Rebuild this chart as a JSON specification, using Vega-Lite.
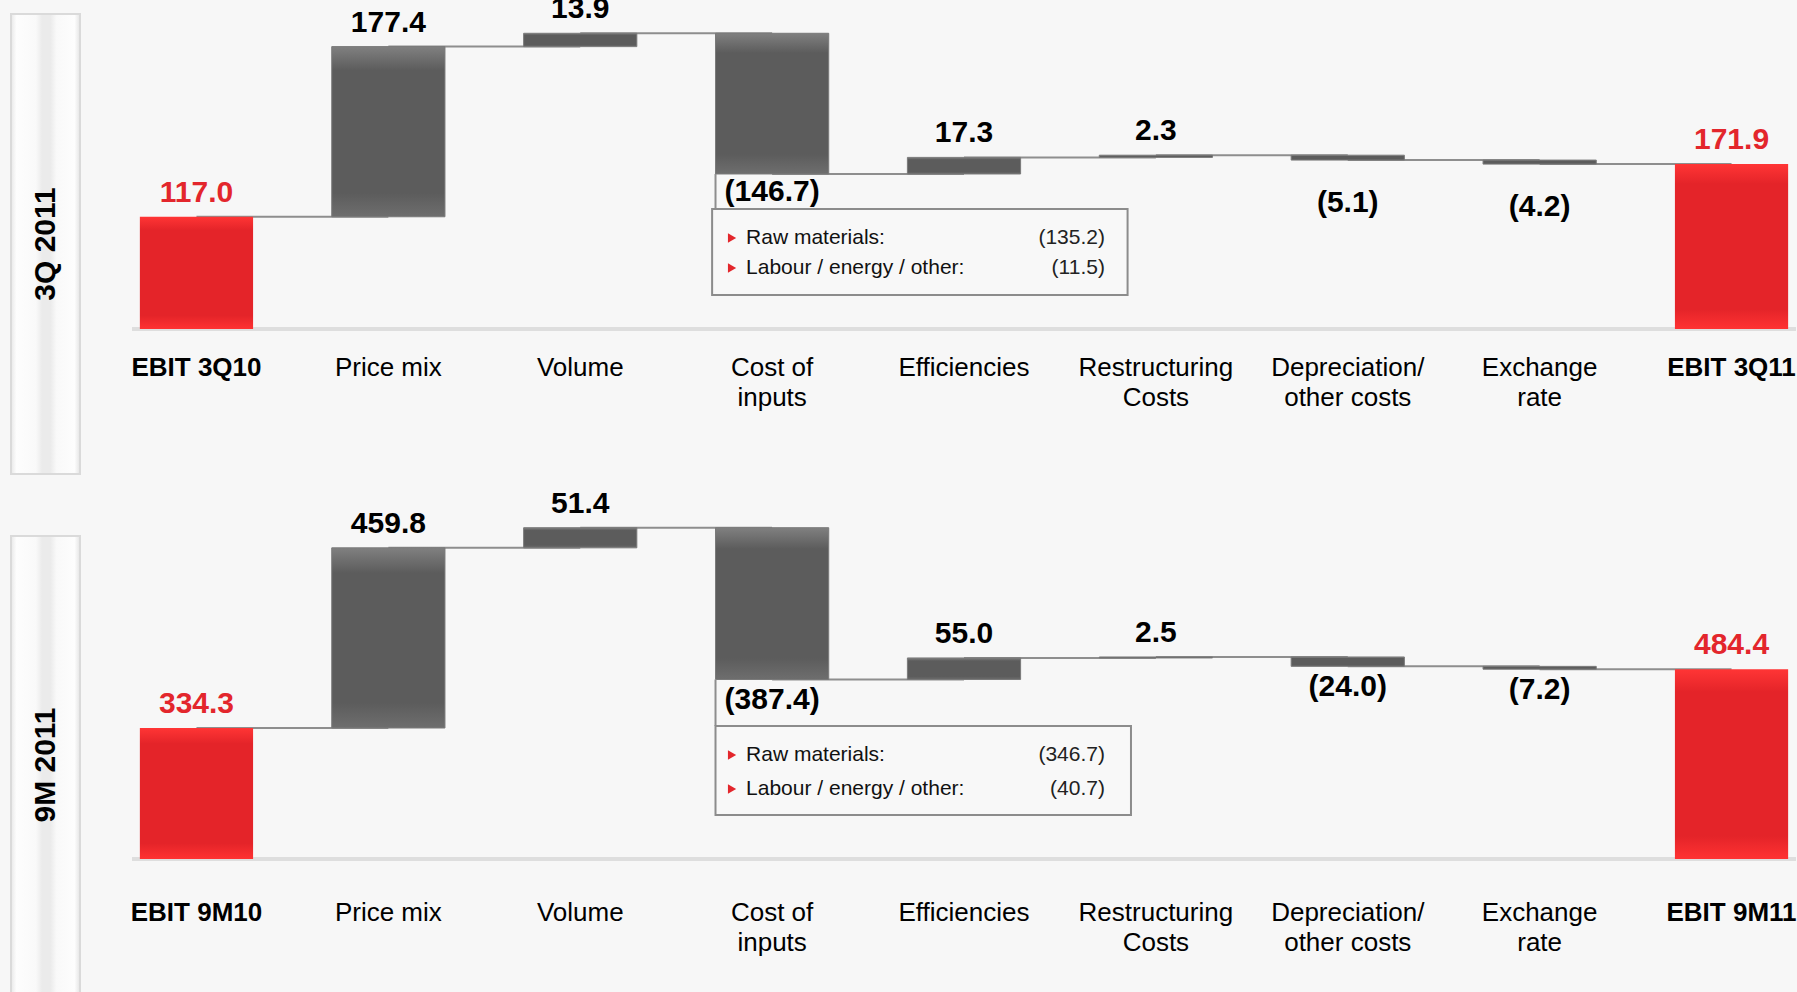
{
  "$schema": "https://vega.github.io/schema/vega-lite/v6.json",
  "background": "#f7f7f7",
  "padding": {"left": 10, "top": 0, "right": 0, "bottom": 0},
  "config": {"view": {"stroke": null}, "font": "Liberation Sans", "text": {"font": "Liberation Sans"}},
  "datasets": {
    "q3": [
      {"label": "EBIT 3Q10", "kind": "total", "value": 117.0, "start": 0, "end": 117.0, "next": "Price mix"},
      {"label": "Price mix", "kind": "change", "value": 177.4, "start": 117.0, "end": 294.4, "next": "Volume"},
      {"label": "Volume", "kind": "change", "value": 13.9, "start": 294.4, "end": 308.3, "next": "Cost of inputs"},
      {"label": "Cost of inputs", "kind": "change", "value": -146.7, "start": 308.3, "end": 161.6, "next": "Efficiencies"},
      {"label": "Efficiencies", "kind": "change", "value": 17.3, "start": 161.6, "end": 178.9, "next": "Restructuring Costs"},
      {"label": "Restructuring Costs", "kind": "change", "value": 2.3, "start": 178.9, "end": 181.2, "next": "Depreciation/ other costs"},
      {"label": "Depreciation/ other costs", "kind": "change", "value": -5.1, "start": 181.2, "end": 176.1, "next": "Exchange rate"},
      {"label": "Exchange rate", "kind": "change", "value": -4.2, "start": 176.1, "end": 171.9, "next": "EBIT 3Q11"},
      {"label": "EBIT 3Q11", "kind": "total", "value": 171.9, "start": 0, "end": 171.9, "next": null}
    ],
    "m9": [
      {"label": "EBIT 9M10", "kind": "total", "value": 334.3, "start": 0, "end": 334.3, "next": "Price mix"},
      {"label": "Price mix", "kind": "change", "value": 459.8, "start": 334.3, "end": 794.1, "next": "Volume"},
      {"label": "Volume", "kind": "change", "value": 51.4, "start": 794.1, "end": 845.5, "next": "Cost of inputs"},
      {"label": "Cost of inputs", "kind": "change", "value": -387.4, "start": 845.5, "end": 458.1, "next": "Efficiencies"},
      {"label": "Efficiencies", "kind": "change", "value": 55.0, "start": 458.1, "end": 513.1, "next": "Restructuring Costs"},
      {"label": "Restructuring Costs", "kind": "change", "value": 2.5, "start": 513.1, "end": 515.6, "next": "Depreciation/ other costs"},
      {"label": "Depreciation/ other costs", "kind": "change", "value": -24.0, "start": 515.6, "end": 491.6, "next": "Exchange rate"},
      {"label": "Exchange rate", "kind": "change", "value": -7.2, "start": 491.6, "end": 484.4, "next": "EBIT 9M11"},
      {"label": "EBIT 9M11", "kind": "total", "value": 484.4, "start": 0, "end": 484.4, "next": null}
    ],
    "q3notes": [
      {"item": "Raw materials:", "amount": -135.2},
      {"item": "Labour / energy / other:", "amount": -11.5}
    ],
    "m9notes": [
      {"item": "Raw materials:", "amount": -346.7},
      {"item": "Labour / energy / other:", "amount": -40.7}
    ]
  },
  "spacing": 0,
  "vconcat": [
    {
      "spacing": 49,
      "hconcat": [
        {
          "spacing": 0,
          "vconcat": [
            {"width": 69, "height": 13, "data": {"values": [{}]}, "mark": {"type": "text"}, "encoding": {"text": {"value": ""}}},
            {
              "width": 69, "height": 460,
              "view": {
                "fill": {"gradient": "linear", "x1": 0, "y1": 0, "x2": 1, "y2": 0, "stops": [
                  {"offset": 0, "color": "#e8e8e8"}, {"offset": 0.08, "color": "#fdfdfd"}, {"offset": 0.36, "color": "#f9f9f9"},
                  {"offset": 0.45, "color": "#ebebeb"}, {"offset": 0.57, "color": "#ebebeb"}, {"offset": 0.66, "color": "#f9f9f9"},
                  {"offset": 0.92, "color": "#fdfdfd"}, {"offset": 1, "color": "#e4e4e4"}]},
                "stroke": "#dadada", "strokeWidth": 2
              },
              "data": {"values": [{"period": "3Q 2011"}]},
              "mark": {"type": "text", "angle": 270, "fontSize": 30, "fontWeight": "bold", "color": "#000000", "align": "center", "baseline": "middle"},
              "encoding": {
                "x": {"datum": 0.5, "type": "quantitative", "scale": {"domain": [0, 1]}, "axis": null},
                "y": {"datum": 0.5, "type": "quantitative", "scale": {"domain": [0, 1]}, "axis": null},
                "text": {"field": "period"}
              }
            }
          ]
        },
        {
          "width": 1664, "height": 329,
          "data": {"name": "q3"},
          "layer": [
            {"mark": {"type": "rule", "color": "#dedede", "strokeWidth": 3}, "encoding": {"y": {"datum": 0, "type": "quantitative", "scale": {"domain": [0, 343], "nice": false, "zero": false}, "axis": null}}},
            {
              "transform": [{"filter": "datum.next != null"}],
              "mark": {"type": "rule", "color": "#8e8e8e", "strokeWidth": 2},
              "encoding": {
                "x": {"field": "label", "type": "nominal", "bandPosition": 0.5,
                  "scale": {"domain": ["EBIT 3Q10", "Price mix", "Volume", "Cost of inputs", "Efficiencies", "Restructuring Costs", "Depreciation/ other costs", "Exchange rate", "EBIT 3Q11"], "paddingInner": 0.41, "paddingOuter": 0.041},
                  "axis": {"title": null, "orient": "bottom", "domain": false, "ticks": false, "tickSize": 0, "labelAngle": 0, "labelPadding": 25, "labelFontSize": 26, "labelFont": "Liberation Sans", "labelColor": "#000000", "labelLineHeight": 30, "labelLimit": 400, "labelOverlap": false,
                    "labelFontWeight": {"condition": {"test": "indexof(datum.value, 'EBIT') == 0", "value": "bold"}, "value": "normal"},
                    "labelExpr": "datum.value == 'Cost of inputs' ? ['Cost of', 'inputs'] : datum.value == 'Restructuring Costs' ? ['Restructuring', 'Costs'] : datum.value == 'Depreciation/ other costs' ? ['Depreciation/', 'other costs'] : datum.value == 'Exchange rate' ? ['Exchange', 'rate'] : datum.label"}},
                "x2": {"field": "next"},
                "y": {"field": "end", "type": "quantitative"}
              }
            },
            {
              "transform": [{"filter": "datum.kind == 'change'"}],
              "mark": {"type": "bar", "stroke": "#7a7a7a", "strokeWidth": 1, "fill": {"gradient": "linear", "x1": 0, "y1": 0, "x2": 0, "y2": 1, "stops": [{"offset": 0, "color": "#808080"}, {"offset": 0.14, "color": "#5c5c5c"}, {"offset": 0.86, "color": "#5c5c5c"}, {"offset": 1, "color": "#6e6e6e"}]}},
              "encoding": {"x": {"field": "label", "type": "nominal"}, "y": {"field": "start", "type": "quantitative"}, "y2": {"field": "end"}}
            },
            {
              "transform": [{"filter": "datum.kind == 'total'"}],
              "mark": {"type": "bar", "fill": {"gradient": "linear", "x1": 0, "y1": 0, "x2": 0, "y2": 1, "stops": [{"offset": 0, "color": "#ff3535"}, {"offset": 0.12, "color": "#e42429"}, {"offset": 0.88, "color": "#e42429"}, {"offset": 1, "color": "#ff3232"}]}},
              "encoding": {"x": {"field": "label", "type": "nominal"}, "y": {"field": "start", "type": "quantitative"}, "y2": {"field": "end"}}
            },
            {
              "transform": [{"filter": "datum.label == 'Cost of inputs'"}],
              "mark": {"type": "rule", "color": "#8e8e8e", "strokeWidth": 2},
              "encoding": {"x": {"field": "label", "type": "nominal", "bandPosition": 0}, "y": {"field": "end", "type": "quantitative"}, "y2": {"datum": 125.1}}
            },
            {
              "transform": [{"filter": "datum.label == 'Cost of inputs'"}],
              "mark": {"type": "rect", "fill": "#f8f8f8", "stroke": "#8c8c8c", "strokeWidth": 2},
              "encoding": {"x": {"datum": "Cost of inputs", "bandPosition": -0.03}, "x2": {"datum": "Restructuring Costs", "bandPosition": 0.25}, "y": {"datum": 125.1}, "y2": {"datum": 35.4}}
            },
            {
              "transform": [{"filter": "datum.kind == 'change' && datum.value >= 0"}],
              "mark": {"type": "text", "clip": true, "fontSize": 30, "fontWeight": "bold", "color": "#000000", "baseline": "alphabetic", "dy": -15},
              "encoding": {"x": {"field": "label", "type": "nominal"}, "y": {"field": "end", "type": "quantitative"}, "text": {"field": "value", "type": "quantitative", "format": "(.1f"}}
            },
            {
              "transform": [{"filter": "datum.label == 'Cost of inputs'"}],
              "mark": {"type": "text", "clip": true, "fontSize": 30, "fontWeight": "bold", "color": "#000000", "baseline": "alphabetic", "dy": 27},
              "encoding": {"x": {"field": "label", "type": "nominal"}, "y": {"field": "end", "type": "quantitative"}, "text": {"field": "value", "type": "quantitative", "format": "(.1f"}}
            },
            {
              "transform": [{"filter": "datum.kind == 'change' && datum.value < 0 && datum.label != 'Cost of inputs'"}],
              "mark": {"type": "text", "clip": true, "fontSize": 30, "fontWeight": "bold", "color": "#000000", "baseline": "alphabetic", "dy": 52},
              "encoding": {"x": {"field": "label", "type": "nominal"}, "y": {"field": "end", "type": "quantitative"}, "text": {"field": "value", "type": "quantitative", "format": "(.1f"}}
            },
            {
              "transform": [{"filter": "datum.kind == 'total'"}],
              "mark": {"type": "text", "clip": true, "fontSize": 30, "fontWeight": "bold", "color": "#e3262c", "baseline": "alphabetic", "dy": -15},
              "encoding": {"x": {"field": "label", "type": "nominal"}, "y": {"field": "end", "type": "quantitative"}, "text": {"field": "value", "type": "quantitative", "format": "(.1f"}}
            },
            {
              "data": {"name": "q3notes"},
              "transform": [{"filter": "datum.item == 'Raw materials:'"}],
              "encoding": {"y": {"datum": 94.9}},
              "layer": [
                {"mark": {"type": "point", "shape": "triangle-right", "filled": true, "color": "#e3262c", "size": 90, "opacity": 1}, "encoding": {"x": {"datum": "Cost of inputs", "bandPosition": 0.146}}},
                {"mark": {"type": "text", "align": "left", "baseline": "middle", "fontSize": 21, "color": "#111111"}, "encoding": {"x": {"datum": "Cost of inputs", "bandPosition": 0.27}, "text": {"field": "item"}}},
                {"mark": {"type": "text", "align": "right", "baseline": "middle", "fontSize": 21, "color": "#222222"}, "encoding": {"x": {"datum": "Restructuring Costs", "bandPosition": 0.05}, "text": {"field": "amount", "type": "quantitative", "format": "(.1f"}}}
              ]
            },
            {
              "data": {"name": "q3notes"},
              "transform": [{"filter": "datum.item != 'Raw materials:'"}],
              "encoding": {"y": {"datum": 63.6}},
              "layer": [
                {"mark": {"type": "point", "shape": "triangle-right", "filled": true, "color": "#e3262c", "size": 90, "opacity": 1}, "encoding": {"x": {"datum": "Cost of inputs", "bandPosition": 0.146}}},
                {"mark": {"type": "text", "align": "left", "baseline": "middle", "fontSize": 21, "color": "#111111"}, "encoding": {"x": {"datum": "Cost of inputs", "bandPosition": 0.27}, "text": {"field": "item"}}},
                {"mark": {"type": "text", "align": "right", "baseline": "middle", "fontSize": 21, "color": "#222222"}, "encoding": {"x": {"datum": "Restructuring Costs", "bandPosition": 0.05}, "text": {"field": "amount", "type": "quantitative", "format": "(.1f"}}}
              ]
            }
          ]
        }
      ]
    },
    {
      "spacing": 49,
      "hconcat": [
        {
          "spacing": 0,
          "vconcat": [
            {"width": 69, "height": 60, "data": {"values": [{}]}, "mark": {"type": "text"}, "encoding": {"text": {"value": ""}}},
            {
              "width": 69, "height": 458,
              "view": {
                "fill": {"gradient": "linear", "x1": 0, "y1": 0, "x2": 1, "y2": 0, "stops": [
                  {"offset": 0, "color": "#e8e8e8"}, {"offset": 0.08, "color": "#fdfdfd"}, {"offset": 0.36, "color": "#f9f9f9"},
                  {"offset": 0.45, "color": "#ebebeb"}, {"offset": 0.57, "color": "#ebebeb"}, {"offset": 0.66, "color": "#f9f9f9"},
                  {"offset": 0.92, "color": "#fdfdfd"}, {"offset": 1, "color": "#e4e4e4"}]},
                "stroke": "#dadada", "strokeWidth": 2
              },
              "data": {"values": [{"period": "9M 2011"}]},
              "mark": {"type": "text", "angle": 270, "fontSize": 30, "fontWeight": "bold", "color": "#000000", "align": "center", "baseline": "middle"},
              "encoding": {
                "x": {"datum": 0.5, "type": "quantitative", "scale": {"domain": [0, 1]}, "axis": null},
                "y": {"datum": 0.5, "type": "quantitative", "scale": {"domain": [0, 1]}, "axis": null},
                "text": {"field": "period"}
              }
            }
          ]
        },
        {
          "width": 1664, "height": 384,
          "data": {"name": "m9"},
          "layer": [
            {"mark": {"type": "rule", "color": "#dedede", "strokeWidth": 3}, "encoding": {"y": {"datum": 0, "type": "quantitative", "scale": {"domain": [0, 980], "nice": false, "zero": false}, "axis": null}}},
            {
              "transform": [{"filter": "datum.next != null"}],
              "mark": {"type": "rule", "color": "#8e8e8e", "strokeWidth": 2},
              "encoding": {
                "x": {"field": "label", "type": "nominal", "bandPosition": 0.5,
                  "scale": {"domain": ["EBIT 9M10", "Price mix", "Volume", "Cost of inputs", "Efficiencies", "Restructuring Costs", "Depreciation/ other costs", "Exchange rate", "EBIT 9M11"], "paddingInner": 0.41, "paddingOuter": 0.041},
                  "axis": {"title": null, "orient": "bottom", "domain": false, "ticks": false, "tickSize": 0, "labelAngle": 0, "labelPadding": 40, "labelFontSize": 26, "labelFont": "Liberation Sans", "labelColor": "#000000", "labelLineHeight": 30, "labelLimit": 400, "labelOverlap": false,
                    "labelFontWeight": {"condition": {"test": "indexof(datum.value, 'EBIT') == 0", "value": "bold"}, "value": "normal"},
                    "labelExpr": "datum.value == 'Cost of inputs' ? ['Cost of', 'inputs'] : datum.value == 'Restructuring Costs' ? ['Restructuring', 'Costs'] : datum.value == 'Depreciation/ other costs' ? ['Depreciation/', 'other costs'] : datum.value == 'Exchange rate' ? ['Exchange', 'rate'] : datum.label"}},
                "x2": {"field": "next"},
                "y": {"field": "end", "type": "quantitative"}
              }
            },
            {
              "transform": [{"filter": "datum.kind == 'change'"}],
              "mark": {"type": "bar", "stroke": "#7a7a7a", "strokeWidth": 1, "fill": {"gradient": "linear", "x1": 0, "y1": 0, "x2": 0, "y2": 1, "stops": [{"offset": 0, "color": "#808080"}, {"offset": 0.14, "color": "#5c5c5c"}, {"offset": 0.86, "color": "#5c5c5c"}, {"offset": 1, "color": "#6e6e6e"}]}},
              "encoding": {"x": {"field": "label", "type": "nominal"}, "y": {"field": "start", "type": "quantitative"}, "y2": {"field": "end"}}
            },
            {
              "transform": [{"filter": "datum.kind == 'total'"}],
              "mark": {"type": "bar", "fill": {"gradient": "linear", "x1": 0, "y1": 0, "x2": 0, "y2": 1, "stops": [{"offset": 0, "color": "#ff3535"}, {"offset": 0.12, "color": "#e42429"}, {"offset": 0.88, "color": "#e42429"}, {"offset": 1, "color": "#ff3232"}]}},
              "encoding": {"x": {"field": "label", "type": "nominal"}, "y": {"field": "start", "type": "quantitative"}, "y2": {"field": "end"}}
            },
            {
              "transform": [{"filter": "datum.label == 'Cost of inputs'"}],
              "mark": {"type": "rule", "color": "#8e8e8e", "strokeWidth": 2},
              "encoding": {"x": {"field": "label", "type": "nominal", "bandPosition": 0}, "y": {"field": "end", "type": "quantitative"}, "y2": {"datum": 339.4}}
            },
            {
              "transform": [{"filter": "datum.label == 'Cost of inputs'"}],
              "mark": {"type": "rect", "fill": "#f8f8f8", "stroke": "#8c8c8c", "strokeWidth": 2},
              "encoding": {"x": {"datum": "Cost of inputs", "bandPosition": 0}, "x2": {"datum": "Restructuring Costs", "bandPosition": 0.28}, "y": {"datum": 339.4}, "y2": {"datum": 112.3}}
            },
            {
              "transform": [{"filter": "datum.kind == 'change' && datum.value >= 0"}],
              "mark": {"type": "text", "clip": true, "fontSize": 30, "fontWeight": "bold", "color": "#000000", "baseline": "alphabetic", "dy": -15},
              "encoding": {"x": {"field": "label", "type": "nominal"}, "y": {"field": "end", "type": "quantitative"}, "text": {"field": "value", "type": "quantitative", "format": "(.1f"}}
            },
            {
              "transform": [{"filter": "datum.kind == 'change' && datum.value < 0"}],
              "mark": {"type": "text", "clip": true, "fontSize": 30, "fontWeight": "bold", "color": "#000000", "baseline": "alphabetic", "dy": 30},
              "encoding": {"x": {"field": "label", "type": "nominal"}, "y": {"field": "end", "type": "quantitative"}, "text": {"field": "value", "type": "quantitative", "format": "(.1f"}}
            },
            {
              "transform": [{"filter": "datum.kind == 'total'"}],
              "mark": {"type": "text", "clip": true, "fontSize": 30, "fontWeight": "bold", "color": "#e3262c", "baseline": "alphabetic", "dy": -15},
              "encoding": {"x": {"field": "label", "type": "nominal"}, "y": {"field": "end", "type": "quantitative"}, "text": {"field": "value", "type": "quantitative", "format": "(.1f"}}
            },
            {
              "data": {"name": "m9notes"},
              "transform": [{"filter": "datum.item == 'Raw materials:'"}],
              "encoding": {"y": {"datum": 265.4}},
              "layer": [
                {"mark": {"type": "point", "shape": "triangle-right", "filled": true, "color": "#e3262c", "size": 90, "opacity": 1}, "encoding": {"x": {"datum": "Cost of inputs", "bandPosition": 0.146}}},
                {"mark": {"type": "text", "align": "left", "baseline": "middle", "fontSize": 21, "color": "#111111"}, "encoding": {"x": {"datum": "Cost of inputs", "bandPosition": 0.27}, "text": {"field": "item"}}},
                {"mark": {"type": "text", "align": "right", "baseline": "middle", "fontSize": 21, "color": "#222222"}, "encoding": {"x": {"datum": "Restructuring Costs", "bandPosition": 0.05}, "text": {"field": "amount", "type": "quantitative", "format": "(.1f"}}}
              ]
            },
            {
              "data": {"name": "m9notes"},
              "transform": [{"filter": "datum.item != 'Raw materials:'"}],
              "encoding": {"y": {"datum": 178.6}},
              "layer": [
                {"mark": {"type": "point", "shape": "triangle-right", "filled": true, "color": "#e3262c", "size": 90, "opacity": 1}, "encoding": {"x": {"datum": "Cost of inputs", "bandPosition": 0.146}}},
                {"mark": {"type": "text", "align": "left", "baseline": "middle", "fontSize": 21, "color": "#111111"}, "encoding": {"x": {"datum": "Cost of inputs", "bandPosition": 0.27}, "text": {"field": "item"}}},
                {"mark": {"type": "text", "align": "right", "baseline": "middle", "fontSize": 21, "color": "#222222"}, "encoding": {"x": {"datum": "Restructuring Costs", "bandPosition": 0.05}, "text": {"field": "amount", "type": "quantitative", "format": "(.1f"}}}
              ]
            }
          ]
        }
      ]
    }
  ]
}
